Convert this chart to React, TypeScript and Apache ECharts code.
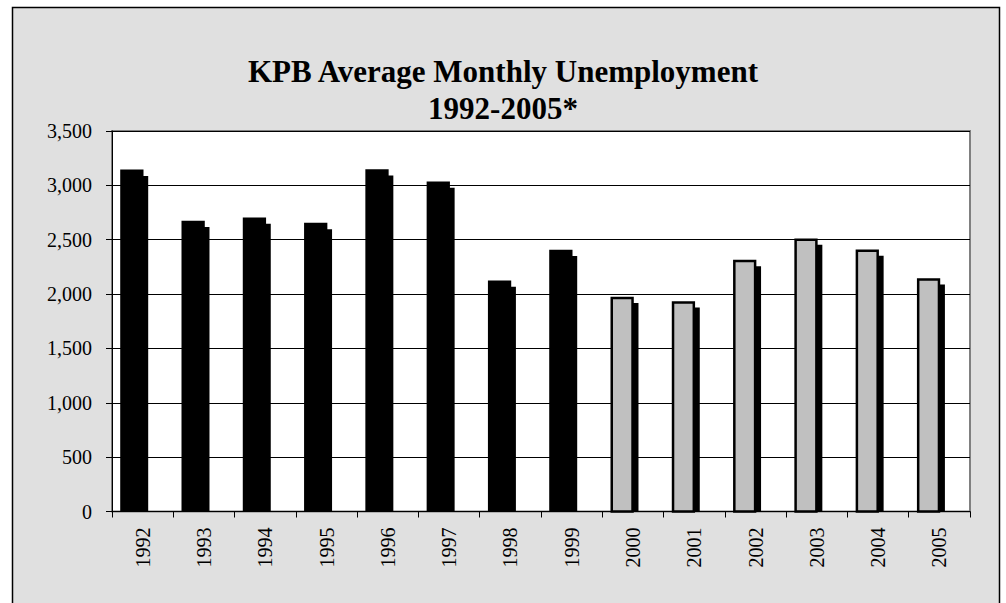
import React, { useEffect, useRef } from "react";
import * as echarts from "echarts";

const titleText = "KPB Average Monthly Unemployment\n1992-2005*";
const years = ["1992", "1993", "1994", "1995", "1996", "1997", "1998", "1999", "2000", "2001", "2002", "2003", "2004", "2005"];
const unemployment = [3145, 2675, 2705, 2655, 3148, 3035, 2125, 2408, 1975, 1935, 2315, 2512, 2410, 2145];
const firstGrayYear = "2000";
const yTicks = { min: 0, max: 3500, interval: 500 };

const serif = "'Liberation Serif', 'Times New Roman', serif";

export default function App() {
  const ref = useRef<HTMLDivElement>(null);
  useEffect(() => {
    if (!ref.current) return;
    const chart = echarts.init(ref.current, null, { renderer: "svg" });
    const grayStart = years.indexOf(firstGrayYear);
    const data = unemployment.map((v, i) => [i, v]);

    const renderItem = (params: any, api: any) => {
      const idx = api.value(0);
      const v = api.value(1);
      const base = api.coord([idx, 0]);
      const top = api.coord([idx, v]);
      const bw = api.size([1, 0])[0];
      const catStart = base[0] - bw / 2;
      const x = catStart + bw * 0.134;
      const w = bw * 0.38;
      const dx = 4.7;
      const dy = 6.3;
      const h = base[1] - top[1];
      const gray = idx >= grayStart;
      const children: any[] = [
        {
          type: "rect",
          shape: { x: x + dx, y: top[1] + dy, width: w, height: Math.max(0, h - dy) },
          style: { fill: "#000" },
        },
      ];
      if (gray) {
        children.push({
          type: "rect",
          shape: { x: x + 1.25, y: top[1] + 1.25, width: w - 2.5, height: h - 1.25 },
          style: { fill: "#c0c0c0", stroke: "#000", lineWidth: 2.5 },
        });
      } else {
        children.push({
          type: "rect",
          shape: { x, y: top[1], width: w, height: h },
          style: { fill: "#000" },
        });
      }
      return { type: "group", children };
    };

    chart.setOption({
      animation: false,
      backgroundColor: "#fff",
      graphic: [
        {
          type: "rect",
          z: -10,
          silent: true,
          shape: { x: 12.5, y: 7.5, width: 987, height: 640 },
          style: { fill: "#e0e0e0", stroke: "#000", lineWidth: 1.5 },
        },
      ],
      title: {
        text: titleText,
        left: "center",
        top: 48,
        textStyle: {
          fontFamily: serif,
          fontWeight: "bold",
          fontSize: 31,
          lineHeight: 37,
          color: "#000",
        },
      },
      grid: {
        left: 112,
        right: 36,
        top: 131,
        bottom: 91.5,
        show: true,
        backgroundColor: "#fff",
        borderColor: "#808080",
        borderWidth: 2,
        containLabel: false,
      },
      xAxis: {
        type: "category",
        data: years,
        boundaryGap: true,
        axisLine: { show: true, lineStyle: { color: "#000", width: 1 } },
        axisTick: { show: true, length: 6, lineStyle: { color: "#000" } },
        axisLabel: {
          rotate: 90,
          margin: 16,
          fontFamily: serif,
          fontSize: 20,
          color: "#000",
        },
        splitLine: { show: false },
      },
      yAxis: {
        type: "value",
        min: yTicks.min,
        max: yTicks.max,
        interval: yTicks.interval,
        axisLine: { show: true, lineStyle: { color: "#000", width: 1 } },
        axisTick: { show: true, length: 6, lineStyle: { color: "#000" } },
        axisLabel: {
          margin: 20,
          fontFamily: serif,
          fontSize: 20,
          color: "#000",
          formatter: (v: number) => v.toLocaleString("en-US"),
        },
        splitLine: { show: true, lineStyle: { color: "#000", width: 1 } },
      },
      series: [
        {
          type: "custom",
          renderItem,
          data,
          encode: { x: 0, y: 1 },
          z: 2,
        },
      ],
    });
    return () => chart.dispose();
  }, []);
  return (
    <div
      ref={ref}
      style={{ position: "fixed", left: 0, top: 0, width: 1006, height: 603 }}
    />
  );
}
